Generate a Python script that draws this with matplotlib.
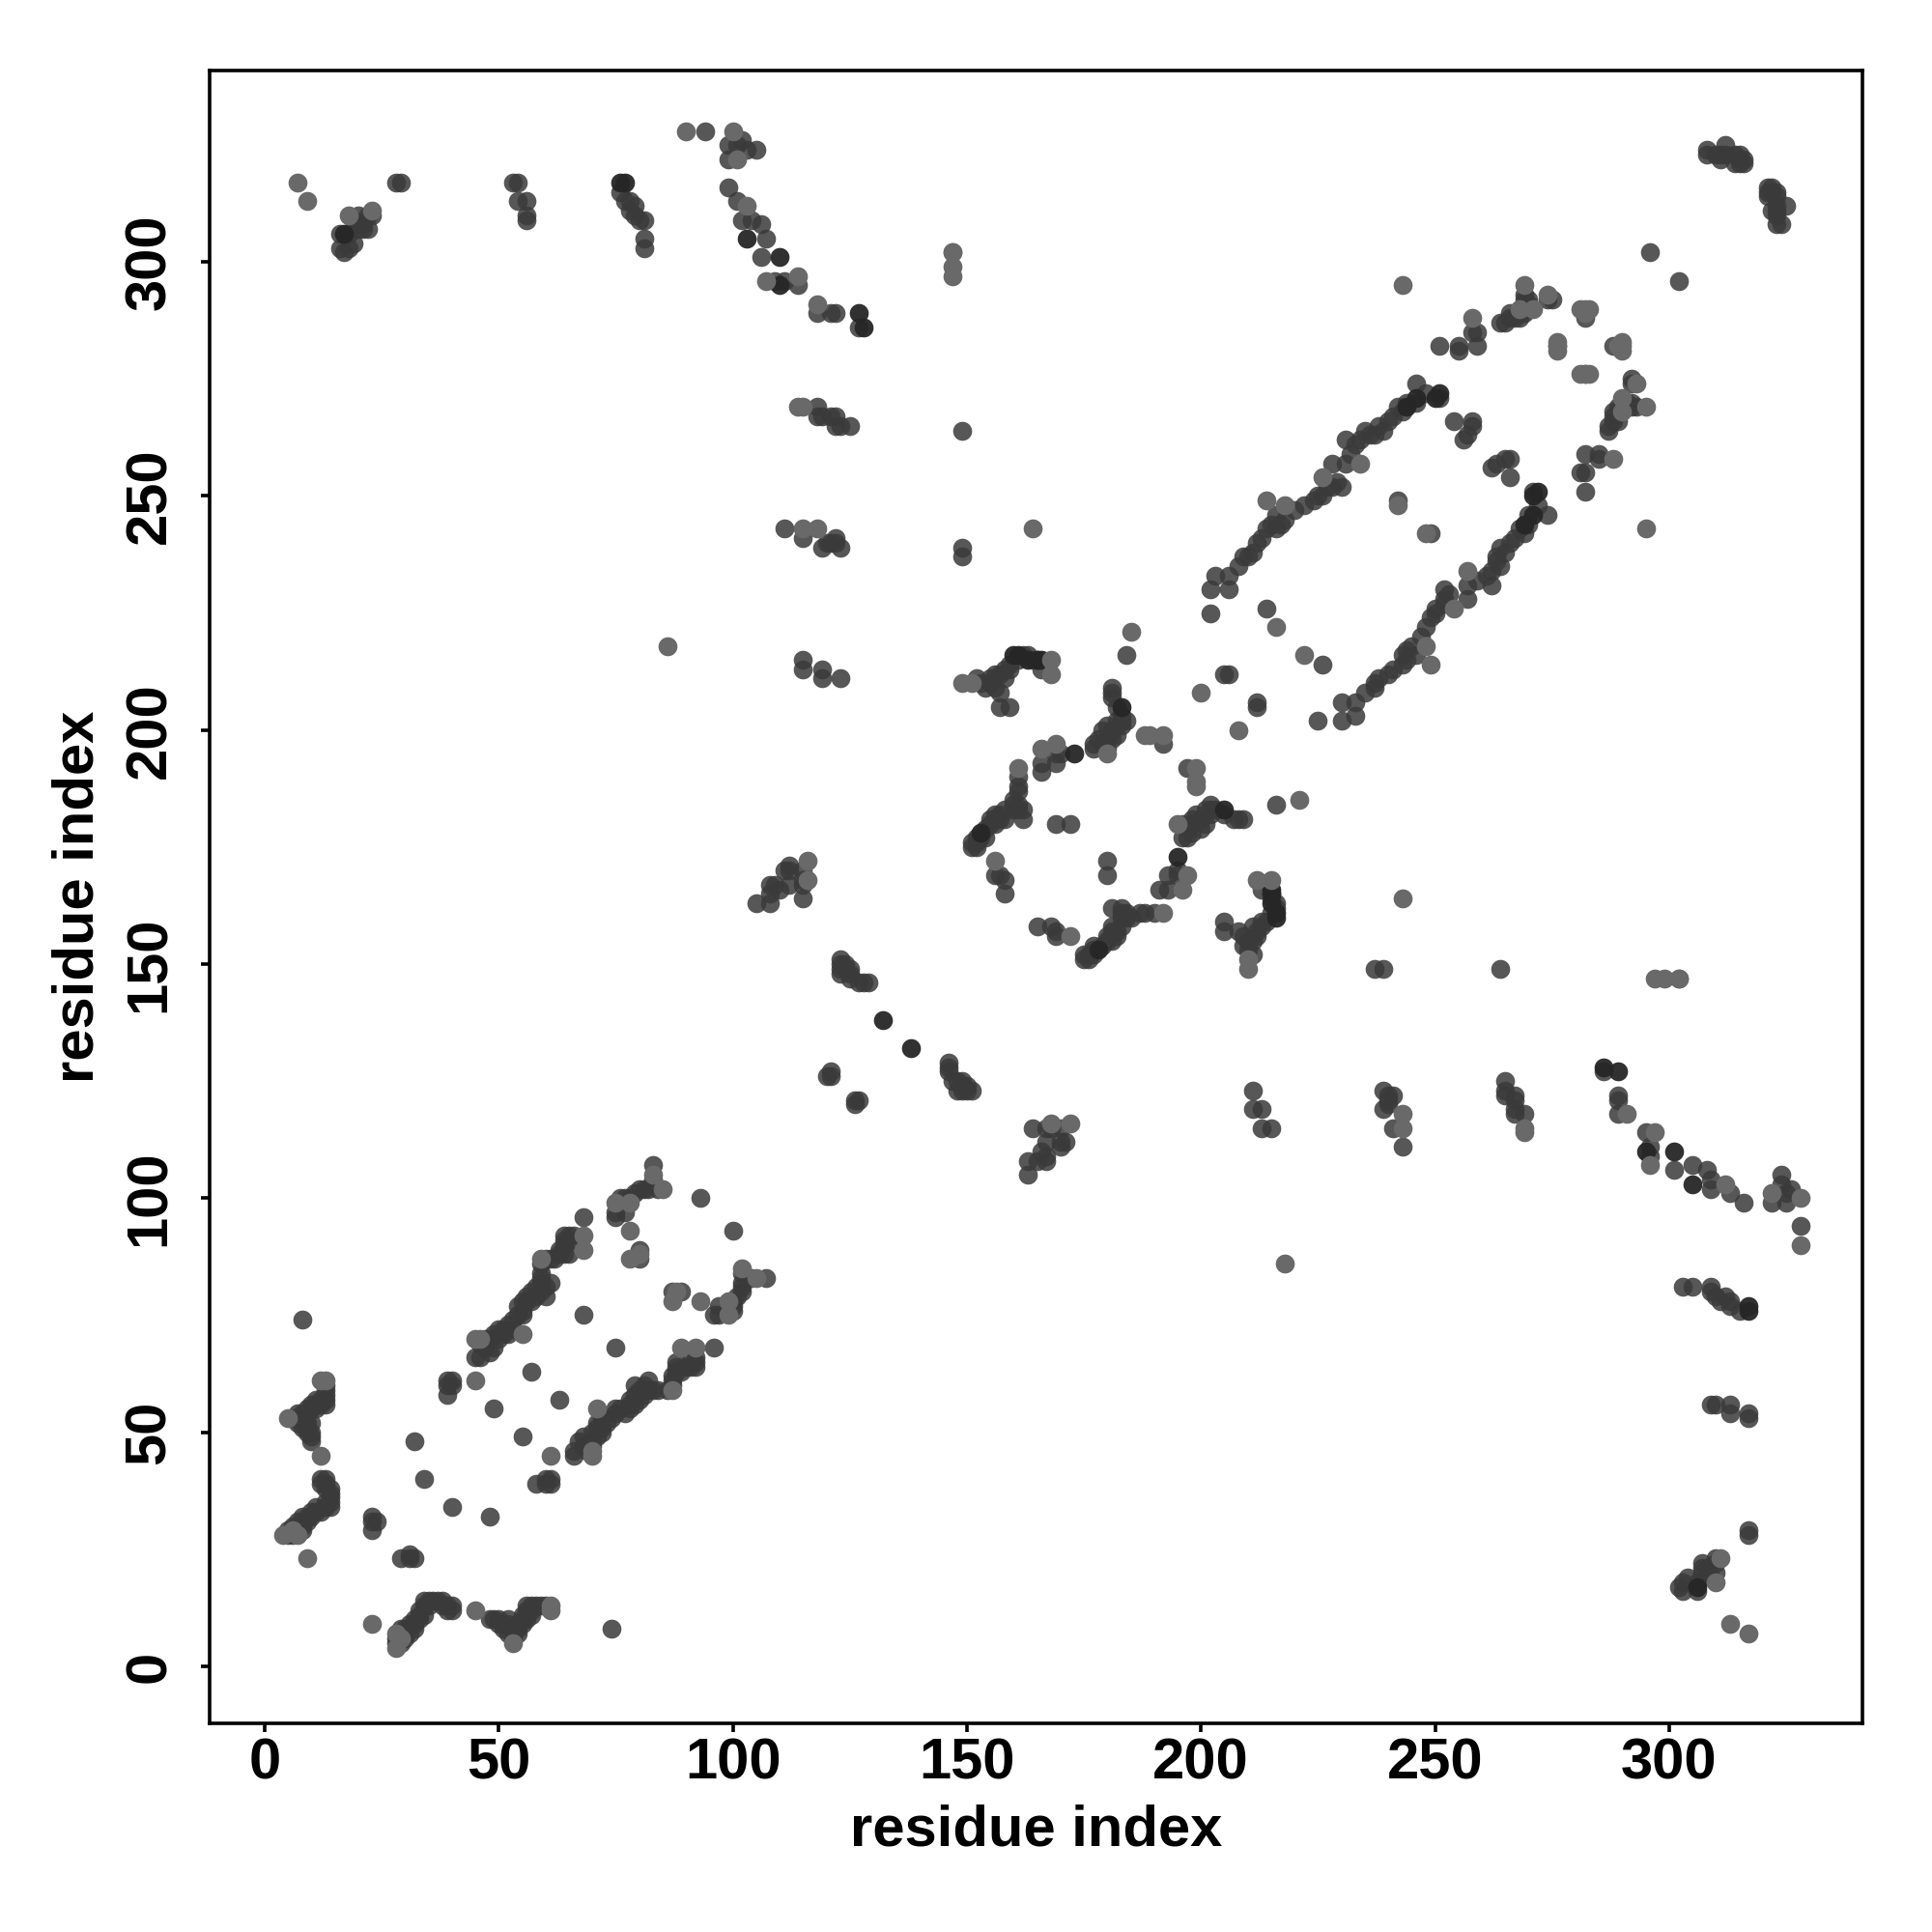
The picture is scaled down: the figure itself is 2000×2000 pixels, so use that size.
import matplotlib
matplotlib.use("Agg")
import matplotlib.pyplot as plt

plt.rcParams['font.family'] = ['Liberation Sans', 'DejaVu Sans']

# contacts as (i, j), i < j; the map is symmetric
near_start = [(9, 23), (4, 28), (5, 28), (6, 28), (7, 28), (5, 29), (6, 29), (8, 29), (6, 30), (7, 30), (8, 30),
              (7, 31), (9, 31), (8, 32), (9, 32), (10, 32), (10, 33), (11, 33), (12, 33), (11, 34), (13, 34),
              (14, 34), (13, 35), (14, 35), (14, 36), (14, 37), (14, 38), (13, 38), (13, 39), (12, 39), (13, 40),
              (12, 40), (12, 45), (10, 48), (10, 49), (10, 50), (9, 50), (9, 51), (8, 51), (9, 52), (10, 52),
              (7, 52), (6, 53), (7, 53), (5, 53), (8, 53), (8, 54), (9, 54), (7, 54), (9, 55), (10, 55), (11, 55),
              (10, 56), (12, 56), (13, 56), (13, 57), (12, 57), (11, 57), (13, 58), (13, 59), (13, 60), (12, 61),
              (13, 61), (8, 74), (23, 29), (23, 31), (24, 31), (23, 32)]

sheet_one = [(45, 66), (45, 70), (46, 70), (47, 70), (48, 67), (49, 68), (50, 70), (51, 71), (51, 72), (52, 71),
             (52, 73), (53, 74), (53, 72), (54, 75), (55, 75), (55, 71), (55, 76), (56, 78), (57, 78), (58, 79),
             (59, 80), (60, 81), (60, 79), (61, 82), (59, 81), (59, 87), (60, 87), (61, 87), (62, 87), (63, 88),
             (64, 88), (65, 88), (64, 91), (65, 92), (66, 92), (68, 92), (68, 89), (68, 96), (75, 96), (75, 99),
             (76, 100), (77, 100), (78, 99), (79, 101), (80, 102), (81, 102), (82, 102), (83, 107), (83, 105),
             (83, 104), (84, 102), (85, 102), (78, 100), (77, 97), (46, 66), (46, 69), (47, 68), (48, 70),
             (49, 71), (50, 72), (54, 77), (55, 78), (56, 79), (57, 80), (58, 81), (59, 82), (59, 83), (59, 84),
             (59, 86), (63, 89), (64, 90), (65, 91), (64, 92), (32, 48), (34, 40), (39, 58), (39, 61), (39, 60),
             (40, 61), (40, 60), (45, 61), (49, 55), (57, 63), (68, 75), (78, 87), (80, 88), (78, 93), (93, 100),
             (80, 87), (80, 89), (75, 97)]

long_range = [(7, 317), (9, 313), (16, 306), (17, 306), (16, 303), (17, 302), (18, 303), (19, 304), (18, 306),
              (18, 310), (19, 309), (20, 310), (20, 307), (21, 307), (22, 307), (22, 310), (23, 310), (23, 311),
              (21, 308), (28, 317), (29, 317), (53, 317), (54, 317), (54, 313), (56, 313), (56, 310), (56, 309),
              (76, 315), (77, 313), (78, 313), (79, 312), (79, 310), (80, 309), (81, 309), (81, 305), (81, 303),
              (78, 311), (90, 328), (94, 328), (100, 328), (99, 325), (99, 322), (101, 322), (101, 325), (102, 326),
              (103, 324), (105, 324), (99, 316), (101, 313), (103, 312), (102, 309), (104, 309), (106, 308),
              (103, 305), (107, 305), (106, 301), (107, 296), (109, 296), (114, 297), (114, 295), (111, 296),
              (118, 291), (118, 289), (121, 289), (122, 289), (127, 286), (147, 302), (147, 299), (147, 297),
              (149, 264), (149, 239), (149, 237), (164, 243), (86, 218), (114, 269), (115, 269), (118, 269),
              (119, 267), (118, 267), (121, 267), (122, 267), (122, 265), (123, 265), (125, 265), (111, 243),
              (115, 243), (115, 241), (118, 243), (119, 239), (122, 241), (123, 239), (120, 240), (121, 240),
              (122, 240), (115, 215), (115, 213), (119, 213), (119, 211), (123, 211), (243, 295)]

middle = [(159, 205), (157, 205), (157, 208), (149, 210), (151, 210), (154, 209), (155, 211), (156, 209),
          (157, 212), (159, 213), (168, 212), (168, 215), (166, 213), (163, 215), (160, 216), (161, 216),
          (159, 214), (158, 211), (153, 210), (152, 211), (155, 210), (156, 212), (158, 213), (161, 215),
          (162, 216), (163, 216), (164, 215), (161, 192), (161, 190), (161, 188), (161, 187), (151, 175),
          (152, 176), (152, 177), (153, 178), (154, 179), (155, 180), (155, 181), (156, 182), (157, 182),
          (158, 183), (160, 184), (160, 185), (157, 181), (161, 183), (161, 184), (151, 176), (152, 175),
          (153, 177), (154, 177), (156, 180), (158, 181), (160, 183), (162, 181), (162, 183), (158, 165),
          (157, 169), (158, 168), (156, 172), (156, 169), (166, 191), (166, 193), (166, 196), (169, 193),
          (169, 195), (169, 197), (170, 195), (169, 180), (172, 180), (180, 195), (180, 196), (179, 197),
          (180, 198), (181, 198), (182, 199), (181, 200), (183, 201), (183, 202), (183, 203), (183, 205),
          (182, 205), (181, 207), (181, 208), (181, 209), (177, 196), (177, 197), (178, 198), (179, 200),
          (180, 201), (182, 202), (184, 202), (188, 199), (189, 199), (192, 197), (192, 199), (185, 221),
          (184, 216), (200, 208), (205, 212), (206, 212), (216, 222), (105, 163), (108, 163), (108, 165),
          (108, 167), (112, 167), (115, 164), (116, 168), (112, 171), (111, 170), (112, 170), (116, 172),
          (115, 170), (115, 167), (115, 168), (109, 167), (110, 166), (123, 151), (123, 150), (124, 150),
          (123, 149), (125, 149), (125, 148), (125, 147), (127, 146), (128, 146), (129, 146), (123, 148),
          (124, 149), (120, 126), (121, 127), (121, 126)]

sheet_two = [(202, 225), (202, 230), (203, 233), (206, 230), (206, 233), (208, 235), (209, 237), (210, 237),
             (212, 240), (213, 241), (214, 243), (216, 243), (214, 249), (218, 248), (218, 245), (216, 246),
             (217, 244), (222, 248), (224, 249), (226, 250), (228, 252), (226, 254), (228, 257), (230, 252),
             (231, 257), (234, 257), (231, 262), (234, 262), (235, 264), (237, 263), (239, 264), (240, 266),
             (241, 267), (242, 269), (244, 270), (246, 274), (246, 270), (248, 272), (251, 271), (214, 226),
             (211, 238), (215, 244), (220, 247), (225, 250), (227, 252), (229, 253), (232, 259), (233, 261),
             (238, 265), (236, 263), (243, 268), (242, 248), (242, 249), (251, 282), (255, 281), (255, 282),
             (259, 282), (258, 285), (259, 285), (258, 288), (254, 266), (258, 266), (258, 265), (256, 262),
             (257, 263), (264, 287), (265, 287), (266, 288), (267, 288), (268, 288), (268, 290), (269, 293),
             (270, 292), (269, 295), (269, 290), (270, 290), (269, 289), (266, 289), (271, 290), (270, 291),
             (269, 292), (274, 293), (275, 292), (276, 281), (276, 282), (282, 288), (282, 290), (283, 290),
             (282, 276), (283, 276), (289, 282), (290, 283), (290, 281), (292, 274), (293, 274), (296, 302),
             (308, 324), (308, 323), (310, 323), (311, 323), (312, 325), (311, 322), (312, 323), (314, 323),
             (315, 322), (316, 322), (315, 321), (314, 321), (315, 323), (316, 321)]

# the ones that stand out darker in the picture
dark_contacts = [(132, 138), (251, 272), (173, 195), (165, 215), (166, 215), (76, 317), (77, 317), (110, 301),
                 (110, 295), (127, 289), (128, 286), (163, 215), (165, 215), (160, 216), (161, 216),
                 (153, 178), (183, 205), (244, 269), (246, 271), (271, 250), (103, 305), (17, 306)]

# pale dots, these sit on top of the darker ones in the picture
pale_contacts = [(7, 317), (9, 313), (147, 302), (147, 297), (147, 299), (164, 243), (86, 218), (90, 328), (45, 61),
                 (78, 93), (78, 87), (80, 88), (243, 295), (200, 208), (216, 222), (185, 221), (149, 210),
                 (168, 212), (168, 215), (45, 70), (46, 70), (55, 71), (68, 89), (68, 92), (75, 99), (78, 99),
                 (83, 105), (85, 102), (59, 87), (214, 249), (218, 248), (226, 254), (234, 257), (258, 288),
                 (269, 295), (276, 281), (276, 282), (282, 290), (283, 290), (289, 282), (290, 281), (293, 274),
                 (166, 196), (161, 192), (169, 197), (156, 172), (100, 328), (101, 322), (103, 312), (107, 296),
                 (114, 297), (118, 291), (115, 243), (118, 243), (114, 269), (115, 269), (151, 210), (242, 248),
                 (180, 195), (188, 199), (189, 199), (192, 199), (23, 311), (18, 310), (5, 53), (12, 45), (9, 23),
                 (13, 61), (12, 61), (4, 28), (6, 29), (7, 28), (147, 302), (116, 172), (116, 168), (282, 276),
                 (283, 276), (268, 290), (271, 290)]

special = {tuple(sorted(p)) for p in dark_contacts + pale_contacts}
base_contacts = [p for p in near_start + sheet_one + long_range + middle + sheet_two if tuple(sorted(p)) not in special]

fig = plt.figure(figsize=(20, 20), dpi=100)
ax = fig.add_axes([217 / 2000, 1 - 1784 / 2000, 1711 / 2000, 1711 / 2000])


def draw(pairs, colour, alpha):
    i = [p[0] for p in pairs]
    j = [p[1] for p in pairs]
    ax.scatter(i + j, j + i, s=200, c=colour, alpha=alpha, linewidths=0, zorder=3)


draw(base_contacts, '#3a3a3a', 0.85)
draw(dark_contacts, '#262626', 0.95)
draw(pale_contacts, '#696969', 1)

ax.set_xlim(-11.76, 341.3)
ax.set_ylim(-12.2, 340.9)
ax.set_xticks(range(0, 301, 50))
ax.set_yticks(range(0, 301, 50))

for side in ax.spines.values():
    side.set_linewidth(2.6)
ax.tick_params(length=6.5, width=2.6, labelsize=43)
ax.tick_params(axis='x', pad=4)
ax.tick_params(axis='y', pad=18)
for lab in ax.get_xticklabels():
    lab.set_fontweight('bold')
for lab in ax.get_yticklabels():
    lab.set_fontweight('bold')
    lab.set_rotation(90)
    lab.set_va('center')

ax.set_xlabel('residue index', fontsize=43, fontweight='bold', va='center')
ax.set_ylabel('residue index', fontsize=43, fontweight='bold', va='center')
ax.xaxis.set_label_coords(0.5, -0.0649)
ax.yaxis.set_label_coords(-0.0795, 0.5)

fig.savefig('out.png', dpi=100, facecolor='white')
